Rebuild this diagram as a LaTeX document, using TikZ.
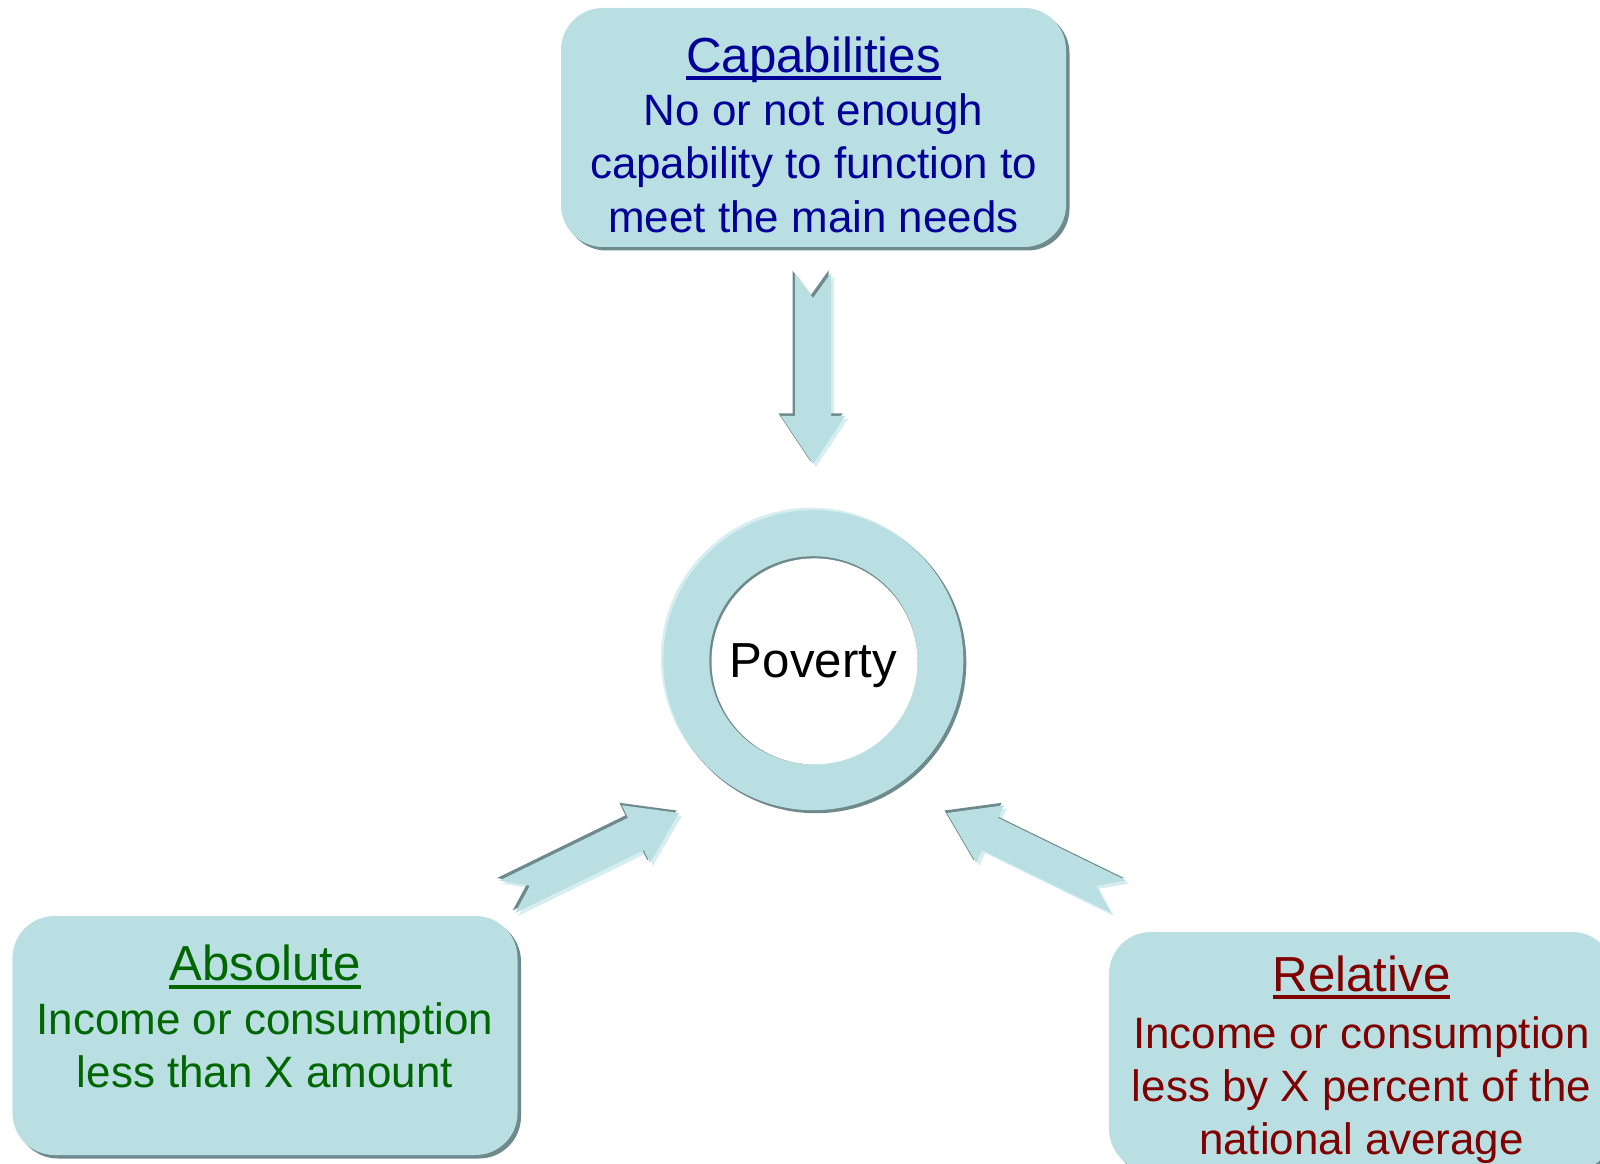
\documentclass[tikz,border=0pt]{standalone}
\usepackage{fontspec}
\setmainfont{Liberation Sans}
\usetikzlibrary{shadows}
\definecolor{ringblue}{HTML}{B9DFE3}
\definecolor{ghostblue}{HTML}{D6EEF0}
\definecolor{shadowgray}{HTML}{6E8A8D}
\definecolor{capblue}{HTML}{000099}
\definecolor{absgreen}{HTML}{006600}
\definecolor{relred}{HTML}{800000}
%% underlined title of a box
\newcommand{\boxtitle}[1]{{\fontsize{14}{16}\selectfont\setbox0\hbox{#1}%
  \rlap{\vrule width\wd0 height -1.1pt depth 2.3pt}\box0}}
\tikzset{
every picture/.style={line width=0.8pt},
%%%%%%%%%%  Node styles
box/.style={rectangle, rounded corners=0.42cm, fill=ringblue,
            minimum width=5.05cm, minimum height=2.39cm, inner sep=0pt,
            drop shadow={shadow xshift=0.035cm, shadow yshift=-0.035cm,
                         fill=shadowgray, opacity=1}},
boxtext/.style={align=center, inner sep=0pt,
                font=\fontsize{12.5}{15.1}\selectfont},
povnode/.style={inner sep=0pt, font=\fontsize{14}{16}\selectfont},
%%%%%%%%%%  Block arrow, tip at the origin, pointing along +x
fat arrow/.pic={
  \fill[pic actions] (0,0) -- (-0.48,0.32) -- (-0.48,0.18) -- (-1.91,0.18)
     -- (-1.66,0) -- (-1.91,-0.18) -- (-0.48,-0.18) -- (-0.48,-0.32) -- cycle;
},
arrowdark/.style={fill=shadowgray, xshift=-0.025cm, yshift=0.025cm},
arrowghost/.style={fill=ghostblue, xshift=0.03cm, yshift=-0.03cm},
arrowbody/.style={fill=ringblue}
}

\begin{document}
\begin{tikzpicture}
\useasboundingbox (0,0) rectangle (16,-11.64);
%% the three boxes
\node[box] (cap) at (8.135,-1.275) {};
\node[box] (abs) at (2.65,-10.355) {};
\node[box] (rel) at (13.615,-10.515) {};
\node[boxtext, text=capblue] (captext) at ([yshift=-0.07cm]cap.center)
  {\boxtitle{Capabilities}\\[0.2pt] No or not enough\\ capability to function to\\ meet the main needs};
\node[boxtext, text=absgreen] (abstext) at ([yshift=0.19cm]abs.center)
  {\boxtitle{Absolute}\\[0.2pt] Income or consumption\\ less than X amount};
\node[boxtext, text=relred] (reltext) at ([yshift=-0.08cm]rel.center)
  {\boxtitle{Relative}\\[1pt] Income or consumption\\ less by X percent of the\\ national average};
%%%%%%%%%%%%%%%%%%%%%%%%%%%%%%%%%%%%%%%%%%%%%%%%%%%%
%% the ring; shadow, light edge, then the ring itself
\coordinate (povc) at (8.133,-6.602);
\fill[ghostblue] ([shift={(-0.02,0.02)}]povc) circle (1.505);
\fill[shadowgray] ([shift={(0.025,-0.025)}]povc) circle (1.505);
\fill[ringblue] (povc) circle (1.5);
\fill[shadowgray] (povc) circle (1.04);
\fill[white] ([shift={(0.012,-0.012)}]povc) circle (1.03);
\node[povnode] (pov) at ([yshift=-0.05cm]povc) {Poverty};
%%%%%%%%%%%%%%%%%%%%%%%%%%%%%%%%%%%%%%%%%%%%%%%%%%%%
%% arrow tips, then the arrows
\coordinate (captip) at (8.13,-4.64);
\coordinate (abstip) at (6.79,-8.13);
\coordinate (reltip) at (9.47,-8.13);
\foreach \tip/\ang in {captip/-90, abstip/26, reltip/154}{
  \pic[arrowghost, rotate=\ang] at (\tip) {fat arrow};
  \pic[arrowdark, rotate=\ang] at (\tip) {fat arrow};
  \pic[arrowbody, rotate=\ang] at (\tip) {fat arrow};
}
\end{tikzpicture}
\end{document}
